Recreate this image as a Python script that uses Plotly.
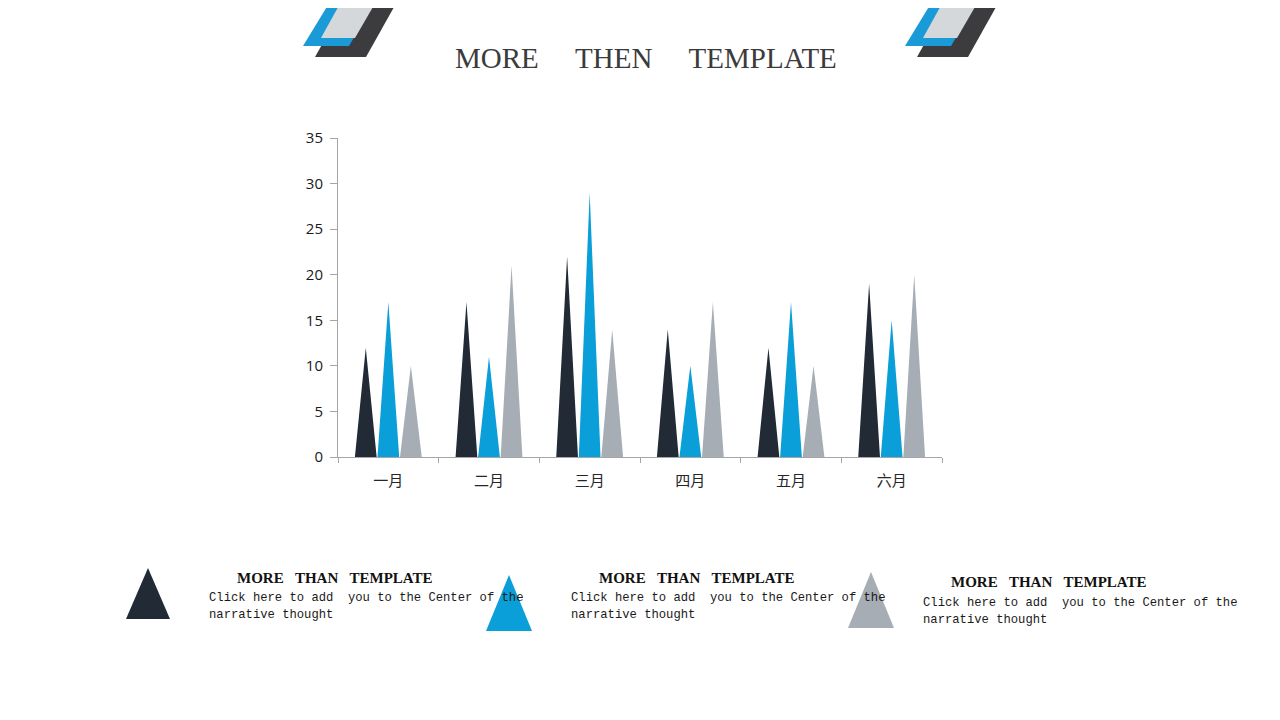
import plotly.graph_objects as go

# ---- data ----
months = ["一月", "二月", "三月", "四月", "五月", "六月"]
series_names = ["系列1", "系列2", "系列3"]
s1 = [12, 17, 22, 14, 12, 19]
s2 = [17, 11, 29, 10, 17, 15]
s3 = [10, 21, 14, 17, 10, 20]
y_ticks = [0, 5, 10, 15, 20, 25, 30, 35]
title_text = "MORE\u00a0\u00a0\u00a0\u00a0\u00a0THEN\u00a0\u00a0\u00a0\u00a0\u00a0TEMPLATE"
head_text = "MORE\u00a0\u00a0\u00a0THAN\u00a0\u00a0\u00a0TEMPLATE"
body_line1 = "Click here to add\u00a0\u00a0you to the Center of the"
body_line2 = "narrative thought"

# ---- styles ----
colors = ["#222a35", "#0a9fd8", "#a6adb4"]
offsets = [-0.224, 0.0, 0.224]
half_w = 0.108
W, H = 1280, 720
OFF = 8  # page body margin


def px(x, y):
    return (x - OFF) / W, 1 - (y - OFF) / H


def path(points):
    pts = [px(x, y) for x, y in points]
    return "M " + " L ".join(f"{a:.5f},{b:.5f}" for a, b in pts) + " Z"


fig = go.Figure()
for vals, col, off, name in zip([s1, s2, s3], colors, offsets, series_names):
    xs, ys = [], []
    for i, v in enumerate(vals):
        c = i + off
        xs += [c - half_w, c, c + half_w, c - half_w, None]
        ys += [0, v, 0, 0, None]
    fig.add_trace(go.Scatter(x=xs, y=ys, mode="lines", fill="toself",
                             fillcolor=col, line=dict(width=0, color=col),
                             name=name, showlegend=False, hoverinfo="skip"))

axis_col = "#a6a6a6"
x0d, y1d = px(338, 138)
x1d, y0d = px(942, 457)
fig.update_layout(
    width=W, height=H,
    margin=dict(l=0, r=0, t=0, b=0),
    paper_bgcolor="white", plot_bgcolor="white",
    xaxis=dict(domain=[x0d, x1d], range=[-0.5, 5.5], automargin=False,
               tickmode="array", tickvals=list(range(len(months))), ticktext=months,
               ticks="", showline=True, linecolor=axis_col, linewidth=1,
               showgrid=False, zeroline=False, fixedrange=True,
               ticklabelstandoff=10,
               tickfont=dict(family="Noto Sans CJK SC", size=15, color="#262626"),
               minor=dict(tickmode="linear", tick0=-0.5, dtick=1, ticks="outside",
                          ticklen=5, tickcolor=axis_col, showgrid=False)),
    yaxis=dict(domain=[y0d, y1d], range=[0, 35], automargin=False,
               tickmode="array", tickvals=y_ticks,
               ticks="outside", ticklen=7, tickcolor=axis_col,
               ticklabelstandoff=4,
               showline=True, linecolor=axis_col, linewidth=1,
               showgrid=False, zeroline=False, fixedrange=True,
               tickfont=dict(family="Open Sans", size=15, color="#1a1a1a")),
)

# ---- decorations (top) ----
deco = []
for dx in (0, 602):
    deco.append(dict(pts=[(315 + dx, 57), (366 + dx, 57), (398 + dx, 0), (347 + dx, 0)], col="#3c3c3e"))
    deco.append(dict(pts=[(303 + dx, 46), (349 + dx, 46), (376 + dx, 0), (331 + dx, 0)], col="#1a9bd7"))
    deco.append(dict(pts=[(321 + dx, 38), (355 + dx, 38), (377 + dx, 0), (342 + dx, 0)], col="#d4d8db"))
shapes = []
for d in deco:
    shapes.append(dict(type="path", xref="paper", yref="paper", path=path(d["pts"]),
                       fillcolor=d["col"], line=dict(width=0), layer="above"))

# ---- bottom legend-like triangles ----
tri = [
    ([(126, 619), (170, 619), (148, 568)], colors[0]),
    ([(486, 631), (532, 631), (509, 575)], colors[1]),
    ([(848, 628), (894, 628), (871, 572)], colors[2]),
]
for pts, col in tri:
    shapes.append(dict(type="path", xref="paper", yref="paper", path=path(pts),
                       fillcolor=col, line=dict(width=0), layer="above"))
fig.update_layout(shapes=shapes)

# ---- texts ----
ann = []
tx, ty = px(646, 58)
ann.append(dict(x=tx, y=ty, xref="paper", yref="paper", text=title_text, showarrow=False,
                xanchor="center", yanchor="middle",
                font=dict(family="Liberation Serif", size=29, color="#3b3b3b")))
blocks = [(335, 578, 207, 598), (697, 578, 569, 598), (1049, 582, 921, 603)]
for hx, hy, bx, by in blocks:
    a, b = px(hx, hy)
    ann.append(dict(x=a, y=b, xref="paper", yref="paper", text="<b>" + head_text + "</b>",
                    showarrow=False, xanchor="center", yanchor="middle",
                    font=dict(family="Liberation Serif", size=15, color="#111111")))
    for k, line in enumerate([body_line1, body_line2]):
        a, b = px(bx, by + 17 * k)
        ann.append(dict(x=a, y=b, xref="paper", yref="paper", text=line,
                        showarrow=False, xanchor="left", yanchor="middle",
                        font=dict(family="Liberation Mono", size=12.2, color="#1a1a1a")))
fig.update_layout(annotations=ann)

fig.write_html("out.html")
